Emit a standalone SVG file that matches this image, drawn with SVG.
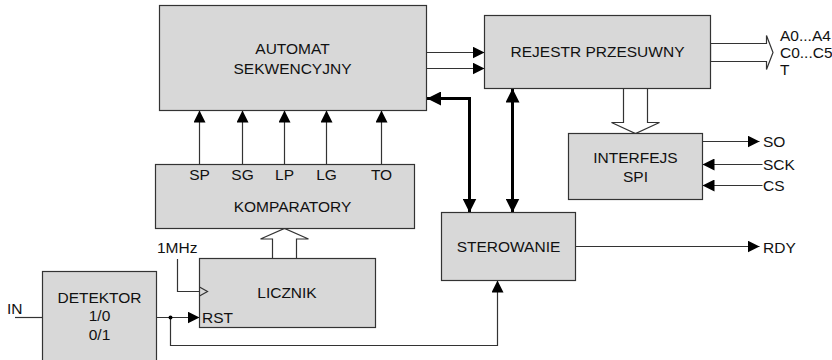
<svg xmlns="http://www.w3.org/2000/svg" width="832" height="360" viewBox="0 0 832 360">
<defs>
<style>
.box{fill:#d8d8d8;stroke:#333;stroke-width:1.2}
.ln{fill:none;stroke:#333;stroke-width:1.2}
.thk{fill:none;stroke:#000;stroke-width:3}
.wide{fill:#fff;stroke:#333;stroke-width:1.2}
text{font-family:"Liberation Sans",Arial,sans-serif;font-size:15.5px;fill:#111}
.c{text-anchor:middle}
</style>
<marker id="a" viewBox="0 0 12 12" refX="12" refY="6" markerWidth="12" markerHeight="12" markerUnits="userSpaceOnUse" orient="auto-start-reverse">
<path d="M0,0 L12,6 L0,12 z" fill="#000"/>
</marker>
<marker id="t" viewBox="0 0 14 14" refX="14" refY="7" markerWidth="14" markerHeight="14" markerUnits="userSpaceOnUse" orient="auto-start-reverse">
<path d="M0,0 L14,7 L0,14 z" fill="#000"/>
</marker>
</defs>

<g id="connectors">
<line class="ln" x1="426.5" y1="52.5" x2="484.5" y2="52.5" marker-end="url(#a)"/>
<line class="ln" x1="426.5" y1="68.5" x2="484.5" y2="68.5" marker-end="url(#a)"/>
<path class="thk" d="M427,98.5 H469.5 V212.5" marker-start="url(#t)" marker-end="url(#t)"/>
<path class="thk" d="M512.5,88.5 V212.5" marker-start="url(#t)" marker-end="url(#t)"/>
<polygon class="wide" points="710.5,43.5 766.5,43.5 766.5,35.5 773,52.5 766.5,69.5 766.5,61.5 710.5,61.5"/>
<polygon class="wide" points="623.5,88.5 623.5,122.5 611.5,122.5 635.5,133.5 659.5,122.5 647.5,122.5 647.5,88.5"/>
<polygon class="wide" points="272.5,258.5 272.5,239 260.5,239 284.5,228.5 308.5,239 296.5,239 296.5,258.5"/>
<line class="ln" x1="702.5" y1="141.5" x2="759.5" y2="141.5" marker-end="url(#a)"/>
<line class="ln" x1="762.5" y1="164.5" x2="702.5" y2="164.5" marker-end="url(#a)"/>
<line class="ln" x1="762.5" y1="185.5" x2="702.5" y2="185.5" marker-end="url(#a)"/>
<line class="ln" x1="575.5" y1="246.5" x2="759.5" y2="246.5" marker-end="url(#a)"/>
<line class="ln" x1="199.5" y1="164.5" x2="199.5" y2="110.5" marker-end="url(#a)"/>
<line class="ln" x1="242.5" y1="164.5" x2="242.5" y2="110.5" marker-end="url(#a)"/>
<line class="ln" x1="284.5" y1="164.5" x2="284.5" y2="110.5" marker-end="url(#a)"/>
<line class="ln" x1="326.5" y1="164.5" x2="326.5" y2="110.5" marker-end="url(#a)"/>
<line class="ln" x1="381.5" y1="164.5" x2="381.5" y2="110.5" marker-end="url(#a)"/>
<path class="ln" d="M177.5,259 V291.5 H199.5"/>
<line class="ln" x1="15" y1="317.5" x2="42.5" y2="317.5"/>
<line class="ln" x1="156.5" y1="317.5" x2="199.5" y2="317.5" marker-end="url(#a)"/>
<path class="ln" d="M170.5,317.5 V345.5 H497.5 V280.5" marker-end="url(#a)"/>
<circle cx="170.5" cy="317.5" r="2" fill="#000"/>
</g>

<g id="automat">
<rect class="box" x="159.5" y="5.5" width="267" height="105"/>
<text class="c" x="292.5" y="54">AUTOMAT</text>
<text class="c" x="292.5" y="74">SEKWENCYJNY</text>
</g>

<g id="rejestr">
<rect class="box" x="484.5" y="15.5" width="226" height="73"/>
<text class="c" x="597.5" y="57">REJESTR PRZESUWNY</text>
</g>

<g id="outputs">
<text x="780" y="40.5">A0...A4</text>
<text x="780" y="57.7">C0...C5</text>
<text x="780" y="75">T</text>
</g>

<g id="interfejs">
<rect class="box" x="568.5" y="133.5" width="134" height="66"/>
<text class="c" x="635.5" y="163">INTERFEJS</text>
<text class="c" x="635.5" y="182">SPI</text>
</g>

<g id="spi-signals">
<text x="763" y="146.5">SO</text>
<text x="763" y="169.5">SCK</text>
<text x="763" y="190.5">CS</text>
<text x="763" y="252.5">RDY</text>
</g>

<g id="komparatory">
<rect class="box" x="155.5" y="164.5" width="259" height="64"/>
<text class="c" x="199.5" y="180">SP</text>
<text class="c" x="242.5" y="180">SG</text>
<text class="c" x="284.5" y="180">LP</text>
<text class="c" x="326.5" y="180">LG</text>
<text class="c" x="381.5" y="180">TO</text>
<text class="c" x="292.5" y="212">KOMPARATORY</text>
</g>

<g id="sterowanie">
<rect class="box" x="441.5" y="212.5" width="134" height="68"/>
<text class="c" x="508.5" y="251.5">STEROWANIE</text>
</g>

<g id="licznik">
<rect class="box" x="199.5" y="258.5" width="176" height="69"/>
<polyline class="ln" points="199.5,287 207.5,291.5 199.5,296"/>
<text class="c" x="287" y="297.5">LICZNIK</text>
<text x="202" y="322.5">RST</text>
</g>

<g id="clock">
<text x="157" y="252.5">1MHz</text>
</g>

<g id="detektor">
<rect class="box" x="42.5" y="271.5" width="114" height="95"/>
<text class="c" x="99.5" y="302.5">DETEKTOR</text>
<text class="c" x="99.5" y="320.5">1/0</text>
<text class="c" x="99.5" y="340">0/1</text>
</g>

<g id="input">
<text x="7" y="314">IN</text>
</g>
</svg>
